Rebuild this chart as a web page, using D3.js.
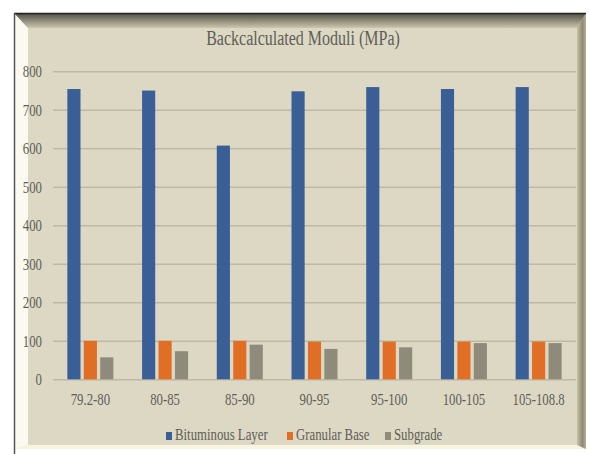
<!DOCTYPE html>
<html><head><meta charset="utf-8">
<script src="https://cdn.jsdelivr.net/npm/d3@7"></script>
<style>body{margin:0;background:#fff}svg{display:block}</style>
</head><body>
<script>
const categories = ["79.2-80","80-85","85-90","90-95","95-100","100-105","105-108.8"];
const bituminous = [754, 750, 607, 748, 759, 754, 759];
const granular = [100, 100, 100, 98, 98, 98, 98];
const subgrade = [57, 73, 90, 79, 83, 94, 94];
const seriesNames = ["Bituminous Layer","Granular Base","Subgrade"];
const seriesColors = ["#3a5f96","#e06e25","#8e8b7b"];
const yTicks = [0,100,200,300,400,500,600,700,800];
const title = "Backcalculated Moduli (MPa)";

const W = 589, H = 454;
const SX = 0.8; // horizontal squeeze of the lettering
const svg = d3.select("body").append("svg").attr("width", W).attr("height", H);
const defs = svg.append("defs");
const gTop = defs.append("linearGradient").attr("id","gt").attr("x1",0).attr("y1",0).attr("x2",0).attr("y2",1);
gTop.append("stop").attr("offset","0%").attr("stop-color","#4e4d40");
gTop.append("stop").attr("offset","100%").attr("stop-color","#cbc6ae");
const gRight = defs.append("linearGradient").attr("id","gr").attr("x1",0).attr("y1",0).attr("x2",1).attr("y2",0);
gRight.append("stop").attr("offset","0%").attr("stop-color","#c8c1a6");
gRight.append("stop").attr("offset","60%").attr("stop-color","#8e8874");
gRight.append("stop").attr("offset","100%").attr("stop-color","#b6ae95");

// frame
const fx0 = 14, fy0 = 13, fx1 = 586, fy1 = 449;
const ix0 = 28, iy0 = 28, ix1 = 577, iy1 = 445;
svg.append("rect").attr("x",fx0).attr("y",fy0).attr("width",fx1-fx0).attr("height",fy1-fy0).attr("fill","#ddd8c4");
svg.append("polygon").attr("points",`${fx0},${fy0} ${ix0},${iy0} ${ix0},${iy1} ${fx0},${fy1}`).attr("fill","#fbfaf0");
svg.append("polygon").attr("points",`${fx0},${fy1} ${ix0},${iy1} ${ix1},${iy1} ${fx1},${fy1}`).attr("fill","#f7f4e2");
svg.append("polygon").attr("points",`${fx1},${fy0} ${ix1},${iy0} ${ix1},${iy1} ${fx1},${fy1}`).attr("fill","url(#gr)");
svg.append("polygon").attr("points",`${fx0},${fy0} ${fx1},${fy0} ${ix1},${iy0} ${ix0},${iy0}`).attr("fill","url(#gt)");
svg.append("rect").attr("x",ix0).attr("y",iy0).attr("width",ix1-ix0).attr("height",iy1-iy0).attr("fill","#ddd8c4");
svg.append("line").attr("x1",fx0).attr("x2",fx1).attr("y1",fy0+0.5).attr("y2",fy0+0.5).attr("stroke","#222").attr("stroke-width",1.5);
svg.append("line").attr("x1",fx0+0.5).attr("x2",fx0+0.5).attr("y1",fy0).attr("y2",H).attr("stroke","#555").attr("stroke-width",1.5);

const font = "Liberation Serif";
const textColor = "#5e5e58";

svg.append("text").attr("transform",`translate(303,45) scale(${SX},1)`).attr("text-anchor","middle")
  .attr("font-family",font).attr("font-size",20).attr("fill",textColor).text(title);

const pLeft = 53, pRight = 576, pTop = 71.3, pBottom = 379.3;
const x = d3.scaleBand().domain(categories).range([pLeft,pRight]).paddingInner(0).paddingOuter(0);
const y = d3.scaleLinear().domain([0,800]).range([pBottom,pTop]);
const sub = d3.scaleBand().domain(seriesNames).range([0,46]).paddingInner(0.2).paddingOuter(0);

const yAxis = d3.axisLeft(y).tickValues(yTicks).tickSize(-(pRight-pLeft)).tickPadding(12);
const gy = svg.append("g").attr("transform",`translate(${pLeft},0)`).call(yAxis);
gy.select(".domain").remove();
gy.selectAll(".tick line").attr("stroke","#bfb9a3").attr("stroke-width",1.5);
gy.selectAll(".tick text").attr("font-family",font).attr("font-size",16).attr("fill",textColor)
  .attr("x",-11/SX).attr("dy","0.33em").attr("transform",`scale(${SX},1)`);

const data = categories.map((c,i)=>({cat:c, vals:[bituminous[i],granular[i],subgrade[i]]}));
const groups = svg.append("g").selectAll("g").data(data).join("g")
  .attr("transform",d=>`translate(${x(d.cat)+x.bandwidth()/2-23},0)`);
groups.selectAll("rect").data(d=>d.vals.map((v,j)=>({v,name:seriesNames[j],c:seriesColors[j]}))).join("rect")
  .attr("x",d=>sub(d.name)).attr("width",sub.bandwidth())
  .attr("y",d=>y(d.v)).attr("height",d=>y(0)-y(d.v)).attr("fill",d=>d.c);

const xAxis = d3.axisBottom(x).tickSize(0).tickPadding(14);
const gx = svg.append("g").attr("transform",`translate(0,${pBottom})`).call(xAxis);
gx.select(".domain").remove();
gx.selectAll(".tick text").attr("font-family",font).attr("font-size",16).attr("fill",textColor)
  .attr("y",26).attr("dy",0).attr("transform",`scale(${SX},1)`);

const legendX = [166, 287, 385];
const lg = svg.append("g");
seriesNames.forEach((n,i)=>{
  lg.append("rect").attr("x",legendX[i]).attr("y",432).attr("width",6).attr("height",8).attr("fill",seriesColors[i]);
  lg.append("text").attr("transform",`translate(${legendX[i]+9},440) scale(${SX},1)`)
    .attr("font-family",font).attr("font-size",16).attr("fill",textColor).text(n);
});
</script>
</body></html>
